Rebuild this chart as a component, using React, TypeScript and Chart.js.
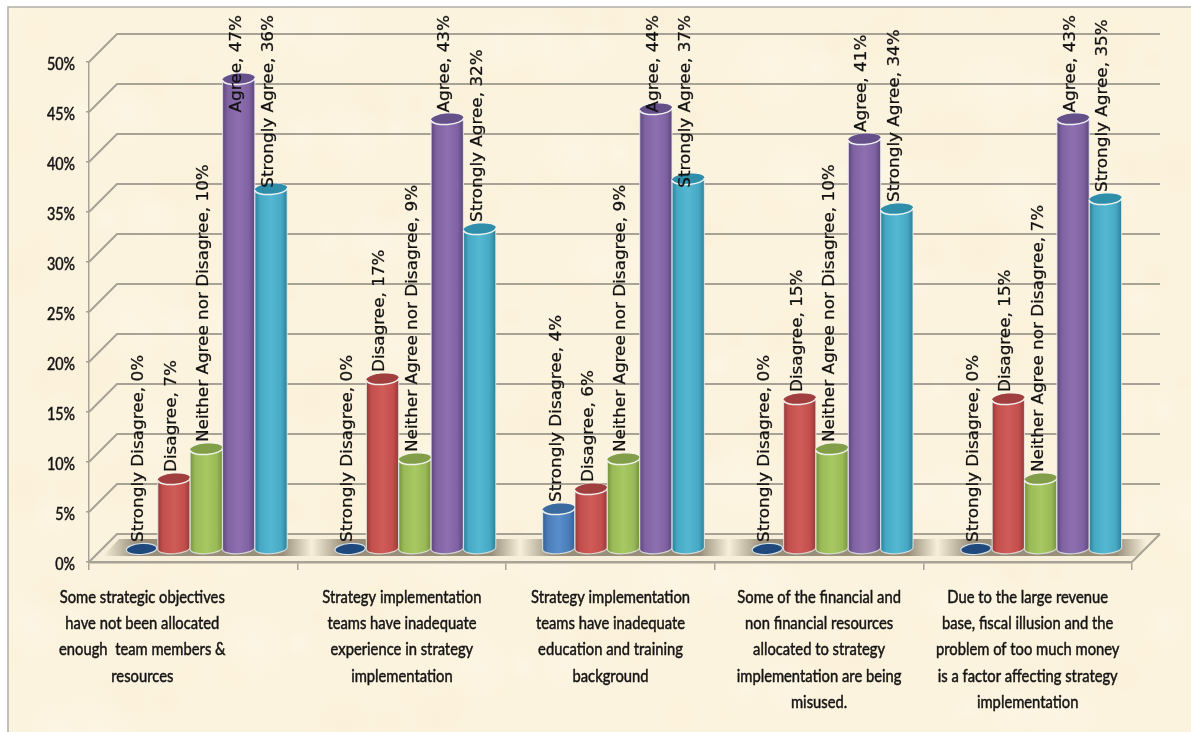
import React, { useEffect, useRef } from "react";
import { Chart, registerables } from "chart.js";

Chart.register(...registerables);

const categories = [
  "Some strategic objectives have not been allocated enough team members & resources",
  "Strategy implementation teams have inadequate experience in strategy implementation",
  "Strategy implementation teams have inadequate education and training background",
  "Some of the financial and non financial resources allocated to strategy implementation are being misused.",
  "Due to the large revenue base, fiscal illusion and the problem of too much money is a factor affecting strategy implementation",
];

const categoryLines = [
  ["Some strategic objectives", "have not been allocated", "enough  team members &", "resources"],
  ["Strategy implementation", "teams have inadequate", "experience in strategy", "implementation"],
  ["Strategy implementation", "teams have inadequate", "education and training", "background"],
  ["Some of the financial and", "non financial resources", "allocated to strategy", "implementation are being", "misused."],
  ["Due to the large revenue", "base, fiscal illusion and the", "problem of too much money", "is a factor affecting strategy", "implementation"],
];

const stronglyDisagree = [0, 0, 4, 0, 0];
const disagree = [7, 17, 6, 15, 15];
const neither = [10, 9, 9, 10, 7];
const agree = [47, 43, 44, 41, 43];
const stronglyAgree = [36, 32, 37, 34, 35];

// Edge shade, mid shade, highlight and cap colour for each cylinder series.
const palette = [
  { edge: "#366092", mid: "#4A7CB8", light: "#5A8FCB", cap: "#3A6A9E", zero: "#1F497D" },
  { edge: "#943A38", mid: "#C24F4C", light: "#D05C58", cap: "#A03F3E", zero: "#7A2F2D" },
  { edge: "#76923C", mid: "#9ABA58", light: "#A8C863", cap: "#829E48", zero: "#76923C" },
  { edge: "#5C4679", mid: "#7F62A1", light: "#8E70B0", cap: "#66508A", zero: "#5C4679" },
  { edge: "#2C7F99", mid: "#47A8C4", light: "#55B8D2", cap: "#2F8EAA", zero: "#2C7F99" },
];

const seriesNames = ["Strongly Disagree", "Disagree", "Neither Agree nor Disagree", "Agree", "Strongly Agree"];
const seriesValues = [stronglyDisagree, disagree, neither, agree, stronglyAgree];

const GRID = "#A7A295";
const INK = "#141414";
const DEPTH = 28;
const BAR_DX = 13;
const BAR_DY = -13;
const LABEL_TOP = 15;

function paintPaper(ctx: CanvasRenderingContext2D, w: number, h: number) {
  ctx.fillStyle = "#ffffff";
  ctx.fillRect(0, 0, w, h);
  ctx.fillStyle = "#FCF3DE";
  ctx.fillRect(8, 7, w - 8, h - 7);
  // Soft parchment mottling
  ctx.save();
  ctx.beginPath();
  ctx.rect(8, 7, w - 8, h - 7);
  ctx.clip();
  for (let i = 0; i < 260; i++) {
    const x = 8 + ((i * 0.618034) % 1) * (w - 8);
    const y = 7 + ((i * 0.754877) % 1) * (h - 7);
    const r = 14 + (i % 5) * 7;
    const tone = i % 3 === 0 ? "255,252,240" : i % 3 === 1 ? "249,236,208" : "252,240,214";
    const g = ctx.createRadialGradient(x, y, 0, x, y, r);
    g.addColorStop(0, `rgba(${tone},0.3)`);
    g.addColorStop(1, `rgba(${tone},0)`);
    ctx.fillStyle = g;
    ctx.fillRect(x - r, y - r, r * 2, r * 2);
  }
  ctx.restore();
  ctx.strokeStyle = "#B0AEA8";
  ctx.lineWidth = 1.5;
  ctx.beginPath();
  ctx.moveTo(8, 732);
  ctx.lineTo(8, 7);
  ctx.lineTo(w, 7);
  ctx.stroke();
}

function paintFloor(chart: any) {
  const { ctx, chartArea, scales } = chart;
  const y0 = scales.y.getPixelForValue(0);
  const { left, right } = chartArea;
  ctx.save();
  ctx.beginPath();
  ctx.moveTo(left, y0);
  ctx.lineTo(right, y0);
  ctx.lineTo(right + DEPTH, y0 - DEPTH);
  ctx.lineTo(left + DEPTH, y0 - DEPTH);
  ctx.closePath();
  ctx.fillStyle = "#F7EFD9";
  ctx.fill();

  // Shadow band on the floor, fading out between categories
  ctx.beginPath();
  ctx.moveTo(left + 14, y0 - 6);
  ctx.lineTo(right + 8, y0 - 6);
  ctx.lineTo(right + 24, y0 - 23);
  ctx.lineTo(left + 30, y0 - 23);
  ctx.closePath();
  ctx.clip();
  const step = (right - left) / categories.length;
  categories.forEach((_, i) => {
    const a = left + step * i + 14;
    const b = a + step;
    const g = ctx.createLinearGradient(a, 0, b, 0);
    g.addColorStop(0, "rgba(128,118,98,0)");
    g.addColorStop(0.16, "rgba(128,118,98,0.8)");
    g.addColorStop(0.86, "rgba(128,118,98,0.8)");
    g.addColorStop(1, "rgba(128,118,98,0)");
    ctx.fillStyle = g;
    ctx.fillRect(a, y0 - 30, step, 30);
  });
  ctx.restore();
}

function paintWalls(chart: any) {
  const { ctx, chartArea, scales } = chart;
  const { left, right } = chartArea;
  ctx.save();
  ctx.strokeStyle = GRID;
  ctx.lineWidth = 2;
  for (const tick of scales.y.ticks) {
    const py = scales.y.getPixelForValue(tick.value);
    ctx.beginPath();
    ctx.moveTo(left, py);
    ctx.lineTo(left + DEPTH, py - DEPTH);
    ctx.lineTo(right + DEPTH, py - DEPTH);
    ctx.stroke();
  }
  // Right-hand floor edge
  const y0 = scales.y.getPixelForValue(0);
  ctx.beginPath();
  ctx.moveTo(right, y0);
  ctx.lineTo(right + DEPTH, y0 - DEPTH);
  ctx.stroke();
  ctx.restore();
}

function drawCylinder(ctx: CanvasRenderingContext2D, bar: any, colors: (typeof palette)[number], value: number) {
  const cx = bar.x + BAR_DX;
  const rx = bar.width / 2;
  const ry = 5.5;
  const tilt = -0.07;
  const top = bar.y + BAR_DY;
  const bottom = bar.base + BAR_DY;
  ctx.save();
  if (value === 0) {
    ctx.beginPath();
    ctx.ellipse(cx, bottom, rx - 1, ry, tilt, 0, Math.PI * 2);
    ctx.fillStyle = colors.zero;
    ctx.fill();
    ctx.strokeStyle = "rgba(225,235,240,0.9)";
    ctx.lineWidth = 1.2;
    ctx.stroke();
    ctx.restore();
    return;
  }
  const shade = ctx.createLinearGradient(cx - rx, 0, cx + rx, 0);
  shade.addColorStop(0, colors.edge);
  shade.addColorStop(0.16, colors.mid);
  shade.addColorStop(0.5, colors.light);
  shade.addColorStop(0.82, colors.mid);
  shade.addColorStop(1, colors.edge);
  ctx.beginPath();
  ctx.ellipse(cx, bottom, rx, ry, tilt, 0, Math.PI, false);
  ctx.ellipse(cx, top, rx, ry, tilt, Math.PI, 0, false);
  ctx.closePath();
  ctx.fillStyle = shade;
  ctx.fill();
  ctx.strokeStyle = "rgba(235,240,240,0.75)";
  ctx.lineWidth = 1.2;
  ctx.stroke();

  ctx.beginPath();
  ctx.ellipse(cx, top, rx, ry, tilt, 0, Math.PI * 2);
  ctx.fillStyle = colors.cap;
  ctx.fill();
  ctx.beginPath();
  ctx.ellipse(cx, top, rx, ry, tilt, 0, Math.PI, false);
  ctx.strokeStyle = "rgba(245,248,245,0.95)";
  ctx.lineWidth = 1.5;
  ctx.stroke();
  ctx.restore();
}

// Fills and thinly strokes a run of text so it carries the heavier weight of the captions.
function heavyText(ctx: CanvasRenderingContext2D, text: string, weight: number) {
  ctx.fillText(text, 0, 0);
  ctx.lineWidth = weight;
  ctx.strokeText(text, 0, 0);
}

const paperAndWalls = {
  id: "paperAndWalls",
  beforeDraw(chart: any) {
    paintPaper(chart.ctx, chart.width, chart.height);
    paintFloor(chart);
    paintWalls(chart);
  },
};

const cylinders = {
  id: "cylinders",
  afterDatasetsDraw(chart: any) {
    const { ctx } = chart;
    categories.forEach((_, c) => {
      seriesValues.forEach((values, s) => {
        const bar = chart.getDatasetMeta(s).data[c];
        drawCylinder(ctx, bar, palette[s], values[c]);
      });
    });
  },
};

const valueLabels = {
  id: "valueLabels",
  afterDatasetsDraw(chart: any) {
    const { ctx } = chart;
    const stretch = 1.12;
    ctx.save();
    ctx.fillStyle = "#111111";
    ctx.strokeStyle = "#111111";
    ctx.font = '15px "DejaVu Sans"';
    ctx.textBaseline = "middle";
    ctx.textAlign = "left";
    seriesValues.forEach((values, s) => {
      values.forEach((v, c) => {
        const bar = chart.getDatasetMeta(s).data[c];
        const text = `${seriesNames[s]}, ${v}%`;
        const length = ctx.measureText(text).width * stretch;
        const foot = Math.max(bar.y + BAR_DY - 7, LABEL_TOP + length);
        ctx.save();
        ctx.translate(bar.x + BAR_DX - 2, foot);
        ctx.rotate(-Math.PI / 2);
        ctx.scale(stretch, 1);
        heavyText(ctx, text, 0.25);
        ctx.restore();
      });
    });
    ctx.restore();
  },
};

const axisText = {
  id: "axisText",
  afterDraw(chart: any) {
    const { ctx, scales } = chart;
    const firstLine = 597;
    const leading = 26.3;
    ctx.save();
    ctx.fillStyle = INK;
    ctx.strokeStyle = INK;
    ctx.textBaseline = "middle";

    ctx.font = "18px Lato";
    ctx.textAlign = "center";
    categoryLines.forEach((lines, c) => {
      // The opening category's caption sits left of its tick span
      const cx = scales.x.getPixelForTick(c) - (c === 0 ? 51 : 0);
      lines.forEach((line, i) => {
        ctx.save();
        ctx.translate(cx, firstLine + i * leading);
        ctx.scale(0.82, 1);
        heavyText(ctx, line, 0.5);
        ctx.restore();
      });
    });

    ctx.font = "17px Lato";
    ctx.textAlign = "right";
    for (const tick of scales.y.ticks) {
      ctx.save();
      ctx.translate(75, scales.y.getPixelForValue(tick.value) + 3);
      ctx.scale(0.84, 1);
      heavyText(ctx, tick.label, 0.5);
      ctx.restore();
    }
    ctx.restore();
  },
};

export default function App() {
  const ref = useRef<HTMLCanvasElement>(null);
  useEffect(() => {
    const canvas = ref.current;
    if (!canvas) return;
    const chart = new Chart(canvas, {
      type: "bar",
      data: {
        labels: categories,
        datasets: seriesNames.map((name, s) => ({
          label: name,
          data: seriesValues[s],
          backgroundColor: "rgba(0,0,0,0)",
          borderWidth: 0,
          categoryPercentage: 0.776,
          barPercentage: 1,
        })),
      },
      options: {
        animation: false,
        responsive: false,
        layout: { padding: { top: 62, right: 59, left: 0, bottom: 0 } },
        plugins: { legend: { display: false }, title: { display: false }, tooltip: { enabled: false } },
        scales: {
          x: {
            grid: { drawOnChartArea: false, color: GRID, tickLength: 8, lineWidth: 1.5 },
            border: { color: GRID, width: 2.5 },
            ticks: { display: false },
            afterFit: (s: any) => {
              s.height = 170;
            },
          },
          y: {
            min: 0,
            max: 50,
            afterFit: (s: any) => {
              s.width = 89;
            },
            grid: { drawOnChartArea: false, color: GRID, tickLength: 3, lineWidth: 1.5 },
            border: { color: GRID, width: 1.5 },
            ticks: {
              display: false,
              stepSize: 5,
              callback: (v: any) => `${v}%`,
            },
          },
        },
      },
      plugins: [paperAndWalls, cylinders, valueLabels, axisText],
    } as any);
    return () => chart.destroy();
  }, []);
  return (
    <div style={{ position: "absolute", left: 0, top: 0, width: 1191, height: 732 }}>
      <canvas ref={ref} width={1191} height={732} style={{ display: "block" }} />
    </div>
  );
}
